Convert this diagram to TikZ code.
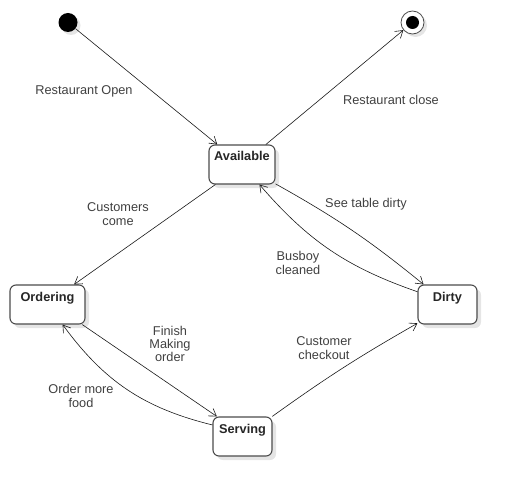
\documentclass[tikz,border=0pt]{standalone}
\usepackage{fontspec}
\setmainfont{Liberation Sans}
\usetikzlibrary{arrows.meta,shadows}

\begin{document}
\begin{tikzpicture}[x=1bp,y=-1bp,
		font=\fontsize{12.8}{13.3}\selectfont,
		etat/.style={rectangle,rounded corners=6bp,draw=black!70,line width=1.1bp,fill=white,
			inner sep=0pt,text height=16bp,text depth=23bp,minimum height=39bp,
			font=\fontsize{12.8}{13.3}\selectfont\bfseries,text=black!85,
			drop shadow={shadow xshift=4bp,shadow yshift=-4bp,fill=black!10,opacity=1}},
		trans/.style={draw=black!90,line width=0.6bp,-{Straight Barb[length=7bp,width=9bp]}},
		etiq/.style={align=center,text=black!75,inner sep=0pt}]
		\useasboundingbox (0,0) rectangle (517,496);

		\node[circle,fill=black,minimum size=19bp,inner sep=0pt,
			drop shadow={shadow xshift=3bp,shadow yshift=-3bp,fill=black!10,opacity=1}] (debut)
			at (68,22.5) {};
		\node[circle,draw=black!70,line width=0.8bp,fill=white,minimum size=23bp,inner sep=0pt,
			drop shadow={shadow xshift=3bp,shadow yshift=-3bp,fill=black!10,opacity=1}] (fin)
			at (412.5,22.5) {};
		\node[circle,fill=black,minimum size=13bp,inner sep=0pt] (finpoint)
			at (fin.center) {};

		\node[etat,minimum width=66bp] (available) at (242,164.5) {Available};
		\node[etat,minimum width=75bp] (ordering) at (47.5,304.5) {Ordering};
		\node[etat,minimum width=59bp] (dirty) at (447.5,304.5) {Dirty};
		\node[etat,minimum width=59bp] (serving) at (242.5,436.5) {Serving};

		\node[etiq] (lopen) at (84,91) {Restaurant Open};
		\node[etiq] (lclose) at (391,100) {Restaurant close};
		\node[etiq] (lcome) at (118,214) {Customers\\come};
		\node[etiq] (lsee) at (366,204) {See table dirty};
		\node[etiq] (lbusboy) at (298,263) {Busboy\\cleaned};
		\node[etiq] (lfinish) at (170,344) {Finish\\Making\\order};
		\node[etiq] (lcheckout) at (324,348) {Customer\\checkout};
		\node[etiq] (lmore) at (81,396) {Order more\\food};

		\draw[trans] (debut) -- (available.141);
		\draw[trans] (available.40) -- (fin);
		\draw[trans] (available.217) -- (ordering.37);
		\draw[trans] (available.330) to[bend left=5] (dirty.140);
		\draw[trans] (dirty.157) to[bend left=15] (available.311);
		\draw[trans] (ordering.330) -- (serving.142);
		\draw[trans] (serving.159) to[bend left=20] (ordering.307);
		\draw[trans] (serving.34) to[bend left=3] (dirty.212);
	\end{tikzpicture}
\end{document}
